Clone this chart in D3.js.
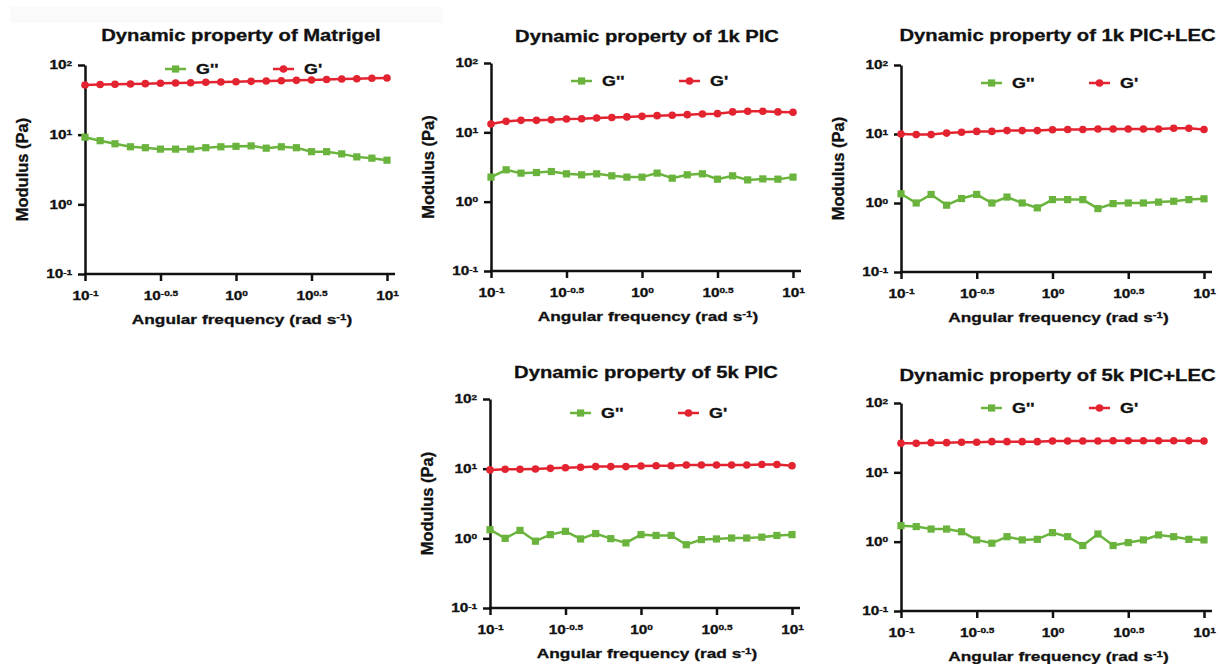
<!DOCTYPE html>
<html>
<head>
<meta charset="utf-8">
<script src="https://cdn.jsdelivr.net/npm/d3@7"></script>
<style>
    body { margin: 0; background: #fff; }
    svg text { font-family: 'Liberation Sans', Arial, sans-serif; font-weight: bold; fill: #111;
               stroke: #111; stroke-width: 0.3; }
</style>
</head>
<body>
<div id="chart"></div>
<script>

// angular frequency (rad/s), 21 points per sweep
const freq = [0.1, 0.126, 0.158, 0.2, 0.251, 0.316, 0.398, 0.501, 0.631, 0.794, 1,
              1.259, 1.585, 1.995, 2.512, 3.162, 3.981, 5.012, 6.31, 7.943, 10];

const titles = ["Dynamic property of Matrigel", "Dynamic property of 1k PIC", "Dynamic property of 1k PIC+LEC",
                "Dynamic property of 5k PIC", "Dynamic property of 5k PIC+LEC"];

const seriesNames = ["G''", "G'"];
const xTickExp = [-1, -0.5, 0, 0.5, 1];
const yTickExp = [-1, 0, 1, 2];

// G' (storage) and G'' (loss), Pa
const matrigelStorage = [51.7, 52.5, 53.0, 53.4, 54.0, 54.6, 55.2, 55.7, 56.5, 57.0, 57.6,
                         58.3, 58.9, 59.5, 60.2, 60.9, 62.0, 63.0, 63.5, 64.4, 65.1];
const matrigelLoss = [9.2, 8.2, 7.4, 6.7, 6.5, 6.2, 6.2, 6.2, 6.5, 6.7, 6.8,
                      6.9, 6.4, 6.7, 6.5, 5.7, 5.7, 5.3, 4.8, 4.6, 4.3];

const pic1kStorage = [13.2, 14.4, 14.9, 14.9, 15.2, 15.6, 15.7, 16.1, 16.4, 16.7, 17.0,
                      17.4, 17.6, 18.0, 18.4, 18.6, 19.7, 20.1, 20.1, 19.7, 19.5];
const pic1kLoss = [2.26, 2.88, 2.58, 2.63, 2.72, 2.52, 2.44, 2.52, 2.36, 2.26, 2.26,
                   2.58, 2.18, 2.44, 2.52, 2.11, 2.36, 2.06, 2.13, 2.11, 2.26];

const pic1kLecStorage = [10.0, 9.8, 9.8, 10.3, 10.6, 10.9, 10.9, 11.2, 11.2, 11.2, 11.5,
                         11.6, 11.6, 11.8, 11.8, 11.8, 11.8, 11.8, 12.1, 12.1, 11.6];
const pic1kLecLoss = [1.36, 1.0, 1.33, 0.93, 1.16, 1.33, 1.0, 1.22, 1.0, 0.85, 1.12,
                      1.12, 1.12, 0.83, 0.98, 1.0, 1.0, 1.03, 1.06, 1.12, 1.15];

const pic5kStorage = [9.6, 9.8, 9.8, 9.9, 10.1, 10.3, 10.5, 10.7, 10.7, 10.7, 10.9,
                      11.0, 11.0, 11.3, 11.3, 11.3, 11.3, 11.3, 11.5, 11.5, 11.0];
const pic5kLoss = [1.33, 1.0, 1.30, 0.91, 1.13, 1.26, 0.98, 1.17, 0.99, 0.86, 1.13,
                   1.10, 1.10, 0.81, 0.96, 0.98, 1.01, 1.01, 1.04, 1.10, 1.13];

const pic5kLecStorage = [26.2, 26.2, 26.8, 26.8, 27.1, 27.1, 27.7, 27.7, 27.7, 27.7, 28.3,
                         28.3, 28.3, 28.3, 28.6, 28.6, 28.6, 28.6, 28.6, 28.6, 28.3];
const pic5kLecLoss = [1.70, 1.65, 1.52, 1.52, 1.39, 1.06, 0.95, 1.18, 1.06, 1.08, 1.35,
                      1.18, 0.88, 1.29, 0.88, 0.97, 1.06, 1.25, 1.18, 1.08, 1.06];

const storageSets = [matrigelStorage, pic1kStorage, pic1kLecStorage, pic5kStorage, pic5kLecStorage];
const lossSets = [matrigelLoss, pic1kLoss, pic1kLecLoss, pic5kLoss, pic5kLecLoss];

// panel placement on the page
const layout = [
    {left: 85,  top: 65,  width: 302, height: 209, titleDy: 24, legendDy: 4,  yLabel: true},
    {left: 491, top: 63,  width: 302, height: 208, titleDy: 21, legendDy: 18, yLabel: true},
    {left: 901, top: 65,  width: 303, height: 207, titleDy: 24, legendDy: 18, yLabel: true},
    {left: 490, top: 399, width: 302, height: 209, titleDy: 21, legendDy: 14, yLabel: true},
    {left: 901, top: 403, width: 303, height: 208, titleDy: 22, legendDy: 5,  yLabel: false}
];

const GREEN = "#6ab43d";
const RED = "#e3232f";
const INK = "#111";
const SX = 1.28;   // the figure is stretched sideways, so is its text

const svg = d3.select("#chart").append("svg")
    .attr("width", 1220)
    .attr("height", 664);

// faint band at the top left of the original
svg.append("rect")
    .attr("x", 10).attr("y", 7)
    .attr("width", 433).attr("height", 16)
    .attr("fill", "#fafafa");

function powLabel(sel, exp) {
    sel.text("10");
    sel.append("tspan")
        .attr("dy", "-0.45em")
        .attr("font-size", "0.66em")
        .text(String(exp).replace("-", "\u2010"));
}

layout.forEach((p, k) => {

    let g = svg.append("g")
        .attr("transform", `translate(${p.left}, ${p.top})`);

    let x = d3.scaleLog().domain([0.1, 10]).range([0, p.width]);
    let y = d3.scaleLog().domain([0.1, 100]).range([p.height, 0]);

    // axes
    let xAxis = d3.axisBottom(x)
        .tickValues(xTickExp.map(e => Math.pow(10, e)))
        .tickSize(7).tickSizeOuter(0).tickPadding(10)
        .tickFormat("");
    let yAxis = d3.axisLeft(y)
        .tickValues(yTickExp.map(e => Math.pow(10, e)))
        .tickSize(7).tickSizeOuter(0).tickPadding(3)
        .tickFormat("");

    let gx = g.append("g").attr("class", "axis x-axis")
        .attr("transform", `translate(0, ${p.height})`)
        .call(xAxis);
    let gy = g.append("g").attr("class", "axis y-axis")
        .call(yAxis);

    gx.select(".domain").attr("d", `M-1,0H${p.width + 8}`);

    [gx, gy].forEach(ax => {
        ax.attr("font-size", 12);
        ax.selectAll("path, line").attr("stroke", INK).attr("stroke-width", 2.5);
        ax.selectAll(".tick text").attr("transform", `scale(${SX},1)`);
    });
    gx.selectAll(".tick text").each(function(d, i) { powLabel(d3.select(this), xTickExp[i]); });
    gy.selectAll(".tick text").each(function(d, i) { powLabel(d3.select(this), yTickExp[i]); });

    // series
    let line = d3.line()
        .x(d => x(d[0]))
        .y(d => y(d[1]));

    let loss = freq.map((f, i) => [f, lossSets[k][i]]);
    let storage = freq.map((f, i) => [f, storageSets[k][i]]);

    g.append("path").datum(loss)
        .attr("fill", "none").attr("stroke", GREEN).attr("stroke-width", 2.5)
        .attr("d", line);
    g.selectAll(".lossPoint").data(loss).enter()
        .append("rect")
        .attr("class", "lossPoint")
        .attr("x", d => x(d[0]) - 3.6)
        .attr("y", d => y(d[1]) - 3.6)
        .attr("width", 7.2).attr("height", 7.2)
        .attr("fill", GREEN);

    g.append("path").datum(storage)
        .attr("fill", "none").attr("stroke", RED).attr("stroke-width", 2.5)
        .attr("d", line);
    g.selectAll(".storagePoint").data(storage).enter()
        .append("circle")
        .attr("class", "storagePoint")
        .attr("cx", d => x(d[0]))
        .attr("cy", d => y(d[1]))
        .attr("r", 3.8)
        .attr("fill", RED);

    // legend
    let legend = g.append("g").attr("transform", `translate(0, ${p.legendDy})`);
    [[80, GREEN, "rect"], [188, RED, "circle"]].forEach(([lx, col, shape], j) => {
        legend.append("line")
            .attr("x1", lx).attr("x2", lx + 21)
            .attr("stroke", col).attr("stroke-width", 2.5);
        if (shape === "rect") {
            legend.append("rect")
                .attr("x", lx + 7).attr("y", -3.6)
                .attr("width", 7.2).attr("height", 7.2)
                .attr("fill", col);
        } else {
            legend.append("circle")
                .attr("cx", lx + 10.5).attr("r", 3.8)
                .attr("fill", col);
        }
        legend.append("text")
            .attr("transform", `translate(${lx + 31}, 0) scale(${SX},1)`)
            .attr("dy", "0.36em")
            .attr("font-size", 14)
            .text(seriesNames[j]);
    });

    // title
    g.append("text")
        .attr("transform", `translate(${p.width / 2 + 5}, ${-p.titleDy}) scale(${SX},1)`)
        .attr("text-anchor", "middle")
        .attr("font-size", 15.8)
        .text(titles[k]);

    // x label
    let xl = g.append("text")
        .attr("transform", `translate(${p.width / 2 + 6}, ${p.height + 50}) scale(${SX},1)`)
        .attr("text-anchor", "middle")
        .attr("font-size", 13.5)
        .text("Angular frequency (rad s");
    xl.append("tspan").attr("dy", "-0.45em").attr("font-size", "0.66em").text("\u20101");
    xl.append("tspan").attr("dy", "0.3em").text(")");

    // y label
    if (p.yLabel) {
        g.append("text")
            .attr("transform", `translate(-63, ${p.height / 2}) rotate(-90)`)
            .attr("text-anchor", "middle")
            .attr("dy", "0.36em")
            .attr("font-size", 16.5)
            .text("Modulus (Pa)");
    }
});

</script>
</body>
</html>
